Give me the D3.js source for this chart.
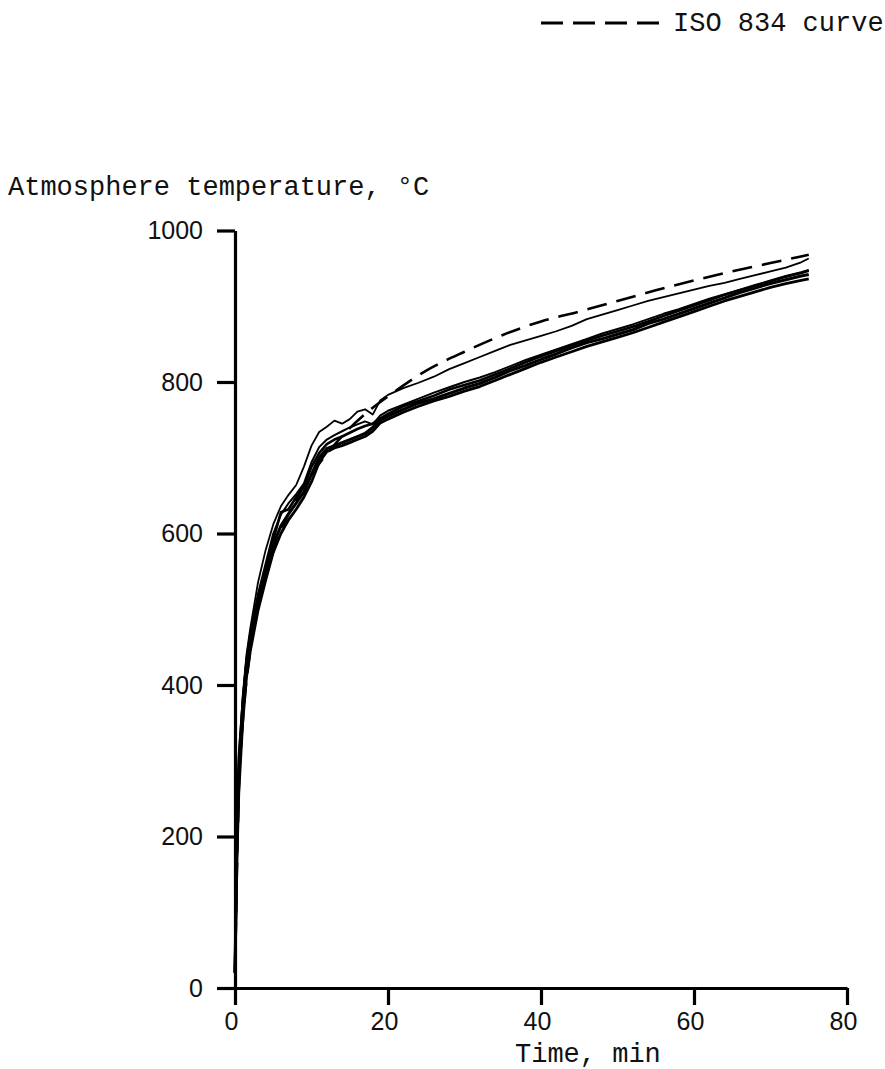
<!DOCTYPE html>
<html>
<head>
<meta charset="utf-8">
<script src="https://cdn.jsdelivr.net/npm/d3@7"></script>
<style>
  html, body { margin: 0; padding: 0; background: #fff; }
  svg { display: block; }
</style>
</head>
<body>
<svg id="chart" width="885" height="1069"></svg>
<script>
// ---- data ----
const xTicks = [0, 20, 40, 60, 80];
const yTicks = [0, 200, 400, 600, 800, 1000];

const tIso = [0, 0.5, 1, 2, 3, 4, 5, 6, 8, 10, 12, 15, 18, 20, 25, 30, 35, 40, 45, 50, 55, 60, 65, 70, 75];
const isoTemp = [20, 261, 349, 445, 502, 544, 576, 603, 645, 678, 705, 739, 766, 781, 815, 840, 862, 880, 893, 907, 921, 934, 946, 957, 968];

const tRun = [0, 0.25, 0.5, 1, 1.5, 2, 3, 4, 5, 6, 7, 8, 9, 10, 11, 12, 13, 14, 15, 16, 17, 18, 19, 20,
  22, 24, 26, 28, 30, 32, 34, 36, 38, 40, 42, 44, 46, 48, 50, 52, 54, 56, 58, 60, 62, 64, 66, 68, 70, 72, 74, 75];

const runA = [20, 200, 290, 385, 440, 475, 535, 578, 612, 636, 651, 664, 688, 716, 734, 741, 749, 745, 751, 761, 764, 757, 776, 783,
  792, 799, 807, 817, 825, 833, 841, 849, 855, 861, 867, 874, 883, 889, 895, 901, 907, 912, 917, 922, 927, 931, 936, 941, 946, 951, 958, 963];
const runB = [20, 190, 280, 365, 420, 452, 505, 545, 585, 610, 626, 640, 655, 678, 700, 712, 716, 720, 724, 728, 732, 740, 750, 755,
  764, 772, 778, 785, 792, 798, 806, 815, 822, 830, 837, 845, 852, 857, 863, 869, 877, 883, 890, 897, 904, 911, 918, 924, 930, 935, 940, 942];
const runC = [20, 210, 300, 375, 430, 462, 515, 552, 592, 628, 632, 648, 662, 688, 706, 718, 724, 728, 733, 738, 742, 745, 752, 758,
  768, 775, 782, 790, 796, 802, 810, 818, 826, 834, 841, 848, 855, 861, 867, 873, 880, 887, 894, 901, 908, 915, 921, 927, 933, 939, 944, 947];
const runD = [20, 170, 260, 350, 410, 445, 498, 538, 575, 600, 618, 632, 648, 668, 694, 708, 713, 716, 720, 724, 728, 735, 746, 751,
  760, 768, 775, 781, 788, 794, 802, 810, 818, 826, 833, 840, 847, 853, 859, 865, 872, 879, 886, 893, 900, 907, 913, 919, 925, 930, 934, 936];
const runE = [20, 220, 310, 380, 435, 470, 520, 560, 600, 625, 640, 652, 666, 694, 714, 724, 730, 735, 740, 744, 748, 744, 756, 762,
  770, 778, 786, 793, 800, 806, 813, 821, 829, 836, 843, 850, 857, 864, 870, 876, 883, 890, 896, 903, 910, 916, 922, 928, 934, 940, 945, 948];

const titleText = "Atmosphere temperature, \u00B0C";
const xLabel = "Time, min";
const legendText = "ISO 834 curve";

// ---- drawing ----
const svg = d3.select("#chart");
const x = d3.scaleLinear().domain([0, 80]).range([235, 847]);
const y = d3.scaleLinear().domain([0, 1000]).range([988, 230.5]);

const mono = "'Liberation Mono', 'DejaVu Sans Mono', monospace";
const sans = "'Liberation Sans', Arial, sans-serif";

// axes
const gx = svg.append("g").attr("transform", `translate(0,${y(0)})`)
  .call(d3.axisBottom(x).tickValues(xTicks).tickFormat(d3.format("d"))
    .tickSize(17).tickSizeOuter(0).tickPadding(7));
const gy = svg.append("g").attr("transform", `translate(${x(0)},0)`)
  .call(d3.axisLeft(y).tickValues(yTicks).tickFormat(d3.format("d"))
    .tickSize(18).tickSizeOuter(0).tickPadding(14));

[gx, gy].forEach(g => {
  g.select(".domain").attr("stroke", "#000").attr("stroke-width", 3.2);
  g.selectAll(".tick line").attr("stroke", "#000").attr("stroke-width", 3.2);
  g.selectAll(".tick text").attr("fill", "#111").style("font-family", sans).style("font-size", "25px");
});
gx.selectAll(".tick text").attr("dx", -4);

// curves
const line = d3.line().x(d => x(d[0])).y(d => y(d[1]));
const zip = (ts, vs) => ts.map((t, i) => [t, vs[i]]);

const runs = [
  { vals: runB, w: 3.0 },
  { vals: runC, w: 2.6 },
  { vals: runD, w: 2.8 },
  { vals: runE, w: 2.0 },
  { vals: runA, w: 1.8 }
];
runs.forEach(r => {
  svg.append("path")
    .datum(zip(tRun, r.vals))
    .attr("d", line)
    .attr("fill", "none")
    .attr("stroke", "#000")
    .attr("stroke-width", r.w)
    .attr("stroke-linejoin", "round");
});

svg.append("path")
  .datum(zip(tIso, isoTemp))
  .attr("d", d3.line().x(d => x(d[0])).y(d => y(d[1])).curve(d3.curveMonotoneX))
  .attr("fill", "none")
  .attr("stroke", "#000")
  .attr("stroke-width", 2.6)
  .attr("stroke-dasharray", "20,10");

// title
svg.append("text")
  .attr("x", 8).attr("y", 195)
  .style("font-family", mono).style("font-size", "27px").attr("fill", "#111")
  .text(titleText);

// x label
svg.append("text")
  .attr("x", 515).attr("y", 1062)
  .style("font-family", mono).style("font-size", "27px").attr("fill", "#111")
  .text(xLabel);

// legend
svg.append("line")
  .attr("x1", 541).attr("x2", 659).attr("y1", 23).attr("y2", 23)
  .attr("stroke", "#000").attr("stroke-width", 3)
  .attr("stroke-dasharray", "22,10");
svg.append("text")
  .attr("x", 673).attr("y", 31)
  .style("font-family", mono).style("font-size", "27px").attr("fill", "#111")
  .text(legendText);
</script>
</body>
</html>
